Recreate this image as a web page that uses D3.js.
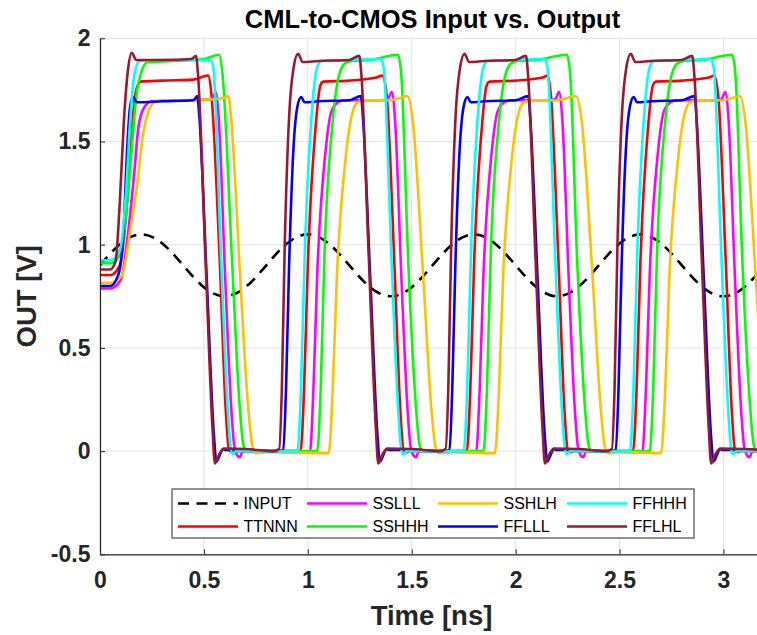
<!DOCTYPE html>
<html><head><meta charset="utf-8">
<script src="https://cdn.jsdelivr.net/npm/d3@7"></script>
<style>body{margin:0;background:#fff}svg{display:block}</style>
</head><body><svg id="c" width="757" height="635"></svg>
<script>
// ---------- data ----------
const xTicks = [0, 0.5, 1, 1.5, 2, 2.5, 3];
const xTickLabels = ["0", "0.5", "1", "1.5", "2", "2.5", "3"];
const yTicks = [-0.5, 0, 0.5, 1, 1.5, 2];
const yTickLabels = ["-0.5", "0", "0.5", "1", "1.5", "2"];

const inputT = [0,0.1,0.2,0.3,0.4,0.5,0.6,0.7,0.8,0.9,1.0,1.1,1.2,1.3,1.4,1.5,1.6,1.7,1.8,1.9,2.0,2.1,2.2,2.3,2.4,2.5,2.6,2.7,2.8,2.9,3.0,3.1,3.2];
const inputV = [0.90,1.006,1.05,1.006,0.90,0.794,0.75,0.794,0.90,1.006,1.05,1.006,0.90,0.794,0.75,0.794,0.90,1.006,1.05,1.006,0.90,0.794,0.75,0.794,0.90,1.006,1.05,1.006,0.90,0.794,0.75,0.794,0.90];

const TTNNN = [[0,0.853],[0.05,0.853],[0.095,0.9],[0.13,1.2],[0.15,1.5],[0.17,1.73],[0.195,1.79],[0.3,1.795],[0.45,1.80],[0.52,1.82],
[0.535,1.74],[0.575,0.95],[0.605,0.2],[0.62,0.01],[0.635,-0.005],[0.655,0],[0.965,0],
[0.982,0.3],[1.0,0.9],[1.04,1.6],[1.06,1.77],[1.075,1.79],[1.2,1.795],[1.33,1.81],[1.36,1.82],
[1.38,1.72],[1.415,0.95],[1.445,0.2],[1.46,0.01],[1.475,-0.005],[1.495,0],[1.765,0],
[1.782,0.3],[1.8,0.9],[1.84,1.6],[1.86,1.77],[1.875,1.79],[2.0,1.795],[2.13,1.81],[2.155,1.82],
[2.17,1.72],[2.205,0.95],[2.235,0.2],[2.25,0.01],[2.265,-0.005],[2.285,0],[2.565,0],
[2.582,0.3],[2.6,0.9],[2.64,1.6],[2.66,1.77],[2.675,1.79],[2.8,1.795],[2.93,1.81],[2.955,1.82],
[2.975,1.72],[3.01,0.95],[3.04,0.2],[3.055,0.01],[3.07,-0.005],[3.09,0],[3.2,0]];

const SSLLL = [[0,0.788],[0.05,0.788],[0.1,0.83],[0.14,1.1],[0.165,1.35],[0.185,1.57],[0.21,1.66],[0.25,1.695],[0.4,1.70],[0.54,1.705],
[0.557,1.74],[0.572,1.6],[0.602,0.85],[0.632,0.2],[0.647,0.02],[0.66,-0.02],[0.672,-0.03],[0.685,-0.005],[0.71,0],[1.01,-0.005],
[1.027,0.3],[1.045,0.85],[1.085,1.45],[1.115,1.65],[1.145,1.69],[1.175,1.70],[1.35,1.70],[1.385,1.705],
[1.404,1.74],[1.42,1.6],[1.45,0.85],[1.48,0.2],[1.495,0.02],[1.508,-0.02],[1.52,-0.03],[1.533,-0.005],[1.558,0],[1.81,-0.005],
[1.827,0.3],[1.845,0.85],[1.885,1.45],[1.915,1.65],[1.945,1.69],[1.975,1.70],[2.15,1.70],[2.19,1.705],
[2.209,1.74],[2.225,1.6],[2.255,0.85],[2.285,0.2],[2.3,0.02],[2.313,-0.02],[2.325,-0.03],[2.338,-0.005],[2.363,0],[2.61,-0.005],
[2.627,0.3],[2.645,0.85],[2.685,1.45],[2.715,1.65],[2.745,1.69],[2.775,1.70],[2.95,1.70],[2.99,1.705],
[3.009,1.74],[3.025,1.6],[3.055,0.85],[3.085,0.2],[3.1,0.02],[3.113,-0.02],[3.125,-0.03],[3.138,-0.005],[3.163,0],[3.2,0]];

const SSHHH = [[0,0.91],[0.05,0.91],[0.1,0.96],[0.135,1.25],[0.155,1.5],[0.175,1.72],[0.2,1.84],[0.23,1.885],[0.35,1.89],[0.5,1.9],[0.573,1.92],
[0.59,1.82],[0.634,0.95],[0.672,0.22],[0.69,0.03],[0.705,0],[1.045,0],
[1.062,0.3],[1.08,0.95],[1.12,1.6],[1.15,1.82],[1.18,1.88],[1.21,1.89],[1.3,1.895],[1.434,1.92],
[1.45,1.82],[1.482,0.95],[1.52,0.22],[1.538,0.03],[1.553,0],[1.845,0],
[1.862,0.3],[1.88,0.95],[1.92,1.6],[1.95,1.82],[1.98,1.88],[2.01,1.89],[2.1,1.895],[2.247,1.92],
[2.263,1.82],[2.295,0.95],[2.333,0.22],[2.351,0.03],[2.366,0],[2.645,0],
[2.662,0.3],[2.68,0.95],[2.72,1.6],[2.75,1.82],[2.78,1.88],[2.81,1.89],[2.9,1.895],[3.042,1.92],
[3.058,1.82],[3.09,0.95],[3.128,0.22],[3.146,0.03],[3.161,0],[3.2,0]];

const SSHLH = [[0,0.815],[0.05,0.815],[0.105,0.85],[0.15,1.1],[0.18,1.3],[0.205,1.52],[0.235,1.65],[0.27,1.695],[0.45,1.70],[0.595,1.71],[0.617,1.72],
[0.632,1.6],[0.674,0.85],[0.714,0.2],[0.734,0.02],[0.75,-0.01],[0.8,-0.005],[1.1,-0.01],
[1.12,0.3],[1.14,0.85],[1.18,1.4],[1.21,1.62],[1.24,1.69],[1.28,1.70],[1.4,1.70],[1.48,1.72],
[1.505,1.6],[1.555,0.85],[1.595,0.2],[1.615,0.02],[1.63,-0.01],[1.7,-0.005],[1.9,-0.01],
[1.92,0.3],[1.94,0.85],[1.98,1.4],[2.01,1.62],[2.04,1.69],[2.08,1.70],[2.2,1.70],[2.29,1.72],
[2.318,1.6],[2.37,0.85],[2.41,0.2],[2.43,0.02],[2.445,-0.01],[2.5,-0.005],[2.7,-0.01],
[2.72,0.3],[2.74,0.85],[2.78,1.4],[2.81,1.62],[2.84,1.69],[2.88,1.70],[3.0,1.70],[3.08,1.72],
[3.105,1.6],[3.155,0.85],[3.195,0.2],[3.215,0.02]];

const FFLLL = [[0,0.80],[0.05,0.80],[0.09,0.86],[0.115,1.1],[0.13,1.45],[0.145,1.67],[0.16,1.715],[0.178,1.69],[0.3,1.695],[0.45,1.70],[0.468,1.72],
[0.478,1.62],[0.513,0.85],[0.548,0.08],[0.56,-0.05],[0.572,-0.03],[0.582,-0.005],[0.592,0.01],[0.605,0.005],[0.7,0.005],[0.85,0],
[0.882,0.005],[0.895,0.3],[0.91,0.9],[0.93,1.45],[0.95,1.67],[0.968,1.715],[0.985,1.69],[1.05,1.695],[1.2,1.70],[1.256,1.72],
[1.265,1.62],[1.30,0.85],[1.335,0.08],[1.347,-0.05],[1.359,-0.03],[1.369,-0.005],[1.379,0.01],[1.392,0.005],[1.5,0.005],[1.65,0],
[1.682,0.005],[1.695,0.3],[1.71,0.9],[1.73,1.45],[1.75,1.67],[1.768,1.715],[1.785,1.69],[1.85,1.695],[2.0,1.70],[2.061,1.72],
[2.07,1.62],[2.105,0.85],[2.14,0.08],[2.152,-0.05],[2.164,-0.03],[2.174,-0.005],[2.184,0.01],[2.197,0.005],[2.3,0.005],[2.45,0],
[2.482,0.005],[2.495,0.3],[2.51,0.9],[2.53,1.45],[2.55,1.67],[2.568,1.715],[2.585,1.69],[2.65,1.695],[2.8,1.70],[2.861,1.72],
[2.87,1.62],[2.905,0.85],[2.94,0.08],[2.952,-0.05],[2.964,-0.03],[2.974,-0.005],[2.984,0.01],[2.997,0.005],[3.1,0.005],[3.2,0]];

const FFHHH = [[0,0.925],[0.05,0.925],[0.095,0.97],[0.125,1.25],[0.145,1.6],[0.165,1.82],[0.19,1.89],[0.3,1.895],[0.53,1.895],
[0.545,1.86],[0.582,0.95],[0.612,0.25],[0.627,0.03],[0.638,-0.015],[0.655,0],[0.95,0],
[0.967,0.3],[0.985,0.95],[1.02,1.65],[1.045,1.86],[1.065,1.89],[1.2,1.895],[1.35,1.9],
[1.365,1.86],[1.402,0.95],[1.432,0.25],[1.447,0.03],[1.458,-0.015],[1.475,0],[1.75,0],
[1.767,0.3],[1.785,0.95],[1.82,1.65],[1.845,1.86],[1.865,1.89],[2.0,1.895],[2.138,1.9],
[2.153,1.86],[2.19,0.95],[2.22,0.25],[2.235,0.03],[2.246,-0.015],[2.263,0],[2.55,0],
[2.567,0.3],[2.585,0.95],[2.62,1.65],[2.645,1.86],[2.665,1.89],[2.8,1.895],[2.938,1.9],
[2.953,1.86],[2.99,0.95],[3.02,0.25],[3.035,0.03],[3.046,-0.015],[3.063,0],[3.2,0]];

const FFLHL = [[0,0.88],[0.05,0.88],[0.075,0.92],[0.095,1.2],[0.115,1.6],[0.135,1.85],[0.152,1.93],[0.175,1.895],[0.3,1.895],[0.44,1.9],[0.462,1.915],
[0.472,1.82],[0.507,0.95],[0.542,0.1],[0.553,-0.06],[0.567,-0.03],[0.577,-0.01],[0.597,0.012],[0.7,0.01],[0.83,0],
[0.862,0.01],[0.875,0.3],[0.889,1.0],[0.91,1.62],[0.932,1.86],[0.953,1.925],[0.975,1.885],[1.05,1.89],[1.2,1.895],[1.248,1.915],
[1.258,1.82],[1.293,0.95],[1.328,0.1],[1.339,-0.06],[1.353,-0.03],[1.363,-0.01],[1.383,0.012],[1.5,0.01],[1.63,0],
[1.663,0.01],[1.676,0.3],[1.69,1.0],[1.711,1.62],[1.733,1.86],[1.754,1.925],[1.776,1.885],[1.85,1.89],[2.0,1.895],[2.05,1.915],
[2.06,1.82],[2.095,0.95],[2.13,0.1],[2.141,-0.06],[2.155,-0.03],[2.165,-0.01],[2.185,0.012],[2.3,0.01],[2.43,0],
[2.463,0.01],[2.476,0.3],[2.49,1.0],[2.511,1.62],[2.533,1.86],[2.554,1.925],[2.576,1.885],[2.65,1.89],[2.8,1.895],[2.85,1.915],
[2.86,1.82],[2.895,0.95],[2.93,0.1],[2.941,-0.06],[2.955,-0.03],[2.965,-0.01],[2.985,0.012],[3.1,0.01],[3.2,0.005]];

const seriesNames = ["TTNNN", "SSLLL", "SSHHH", "SSHLH", "FFLLL", "FFHHH", "FFLHL"];
const seriesData = [TTNNN, SSLLL, SSHHH, SSHLH, FFLLL, FFHHH, FFLHL];
const seriesColors = ["#FF0000", "#FF00FF", "#00FF00", "#FFC000", "#0000FF", "#00FFFF", "#9A1830"];

// ---------- chart ----------
const svg = d3.select("#c");
const x = d3.scaleLinear().domain([0, 3.2]).range([100, 765]);
const y = d3.scaleLinear().domain([-0.5, 2]).range([554.3, 38.3]);
const axisColor = "#262626";
const font = "'Liberation Sans', Arial, sans-serif";

svg.append("rect").attr("width", 757).attr("height", 635).attr("fill", "#fff");

// grid
const grid = svg.append("g").attr("stroke", "#e3e3e3").attr("stroke-width", 1);
grid.selectAll(".gx").data(xTicks).join("line")
  .attr("x1", d => x(d)).attr("x2", d => x(d)).attr("y1", y(-0.5)).attr("y2", y(2));
grid.selectAll(".gy").data(yTicks).join("line")
  .attr("x1", x(0)).attr("x2", x(3.2)).attr("y1", d => y(d)).attr("y2", d => y(d));

// clip
svg.append("clipPath").attr("id", "clip").append("rect")
  .attr("x", x(0)).attr("y", y(2) - 10).attr("width", x(3.2) - x(0)).attr("height", y(-0.5) - y(2) + 10);

const plot = svg.append("g").attr("clip-path", "url(#clip)");

const inputLine = d3.line().x((d, i) => x(inputT[i])).y(d => y(d)).curve(d3.curveNatural);
plot.append("path").attr("d", inputLine(inputV))
  .attr("fill", "none").attr("stroke", "#000").attr("stroke-width", 2.6)
  .attr("stroke-dasharray", "11,7.5");

const line = d3.line().x(d => x(d[0])).y(d => y(d[1])).curve(d3.curveMonotoneX);
seriesData.forEach((s, i) => {
  plot.append("path").attr("d", line(s))
    .attr("fill", "none").attr("stroke", seriesColors[i]).attr("stroke-width", 2.6)
    .attr("stroke-linejoin", "round");
});

// axes
const xAxis = d3.axisBottom(x).tickValues(xTicks).tickFormat((d, i) => xTickLabels[i])
  .tickSizeInner(-5).tickSizeOuter(0).tickPadding(17);
const gx = svg.append("g").attr("transform", `translate(0,${y(-0.5)})`).call(xAxis);
const yAxis = d3.axisLeft(y).tickValues(yTicks).tickFormat((d, i) => yTickLabels[yTicks.indexOf(d)])
  .tickSizeInner(-5).tickSizeOuter(0).tickPadding(9.5);
const gy = svg.append("g").attr("transform", `translate(${x(0)},0)`).call(yAxis);
[gx, gy].forEach(g => {
  g.select(".domain").attr("stroke", axisColor).attr("stroke-width", 1.2);
  g.selectAll(".tick line").attr("stroke", axisColor).attr("stroke-width", 1);
  g.selectAll(".tick text").attr("fill", axisColor).attr("font-family", font)
    .attr("font-weight", "bold").attr("font-size", 23);
});

// title & labels
svg.append("text").attr("x", 432.5).attr("y", 27.5).attr("text-anchor", "middle")
  .attr("font-family", font).attr("font-weight", "bold").attr("font-size", 25.5).attr("fill", "#000")
  .text("CML-to-CMOS Input vs. Output");
svg.append("text").attr("x", 431.5).attr("y", 625).attr("text-anchor", "middle")
  .attr("font-family", font).attr("font-weight", "bold").attr("font-size", 27.5).attr("fill", axisColor)
  .text("Time [ns]");
svg.append("text").attr("transform", `translate(36,${(y(2) + y(-0.5)) / 2}) rotate(-90)`)
  .attr("text-anchor", "middle")
  .attr("font-family", font).attr("font-weight", "bold").attr("font-size", 27.5).attr("fill", axisColor)
  .text("OUT [V]");

// legend
const legendNames = ["INPUT"].concat(seriesNames);
const legendColors = ["#000"].concat(seriesColors);
const colX = [178, 307, 438, 567];
const rowY = [503.5, 526.5];
const lg = svg.append("g");
lg.append("rect").attr("x", 172).attr("y", 489).attr("width", 522).attr("height", 49)
  .attr("fill", "#fff").attr("stroke", axisColor).attr("stroke-width", 1);
legendNames.forEach((name, i) => {
  const c = Math.floor(i / 2), r = i % 2;
  const lx = colX[c], ly = rowY[r];
  const ln = lg.append("line").attr("x1", lx).attr("x2", lx + 60).attr("y1", ly).attr("y2", ly)
    .attr("stroke", legendColors[i]).attr("stroke-width", 2.6);
  if (i === 0) ln.attr("stroke-dasharray", "11,7.5");
  lg.append("text").attr("x", lx + 65.5).attr("y", ly).attr("dy", "0.36em")
    .attr("font-family", font).attr("font-size", 16).attr("fill", "#000").text(name);
});
</script></body></html>
